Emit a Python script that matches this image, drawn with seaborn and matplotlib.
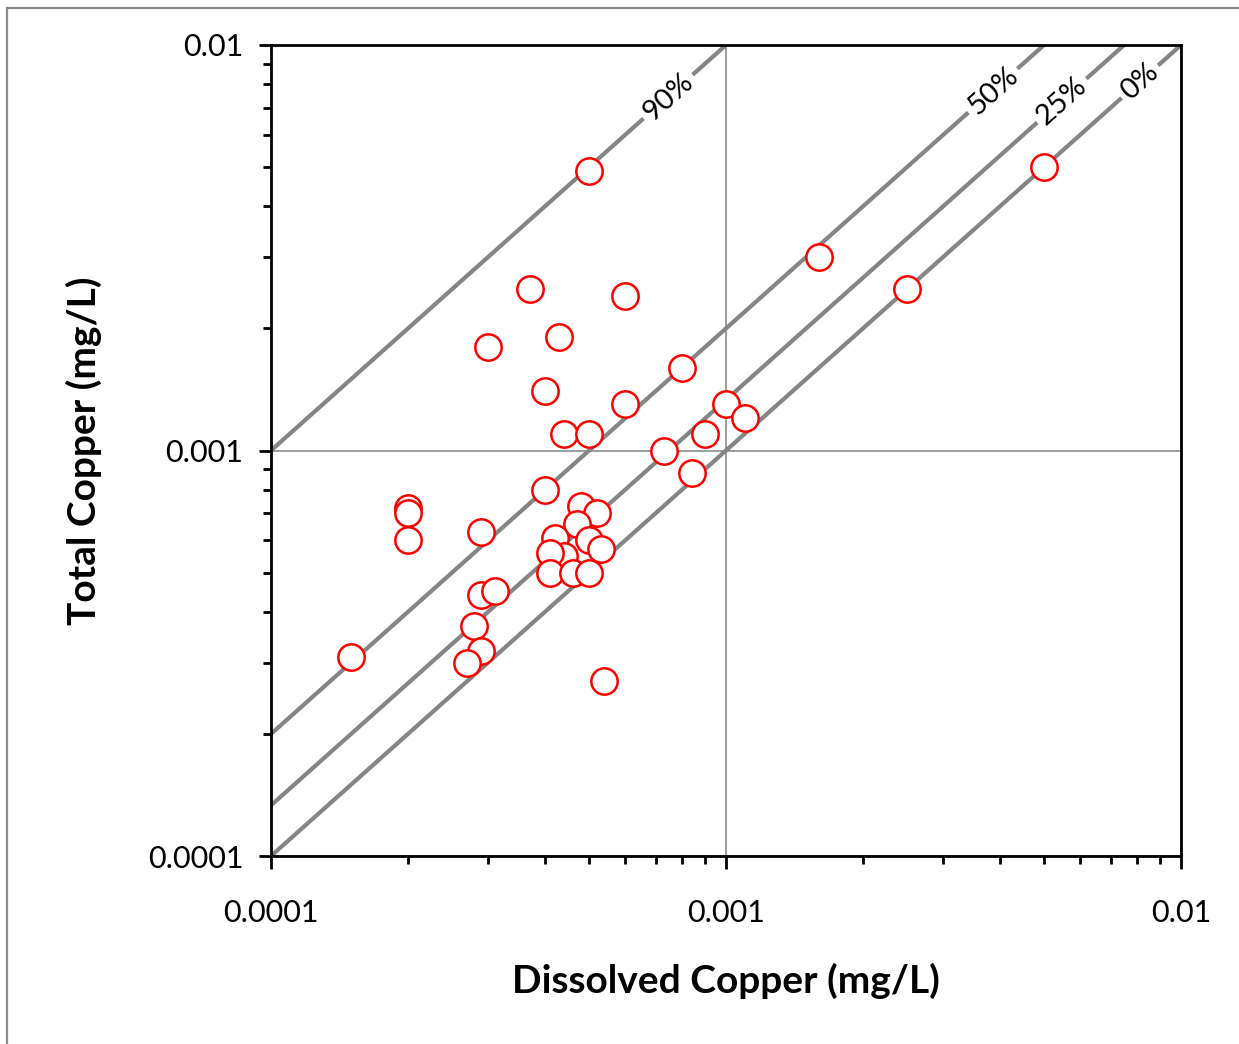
import numpy as np
import pandas as pd
import seaborn as sns
import matplotlib
matplotlib.use("Agg")
import matplotlib.pyplot as plt
from matplotlib.ticker import LogLocator, NullFormatter, FixedLocator, FixedFormatter
from matplotlib.patches import Rectangle

# ---- data (mg/L) ----
dissolved = [0.0005, 0.005, 0.0016, 0.0025, 0.00037, 0.0006, 0.0003, 0.00043,
             0.0004, 0.0008, 0.0006, 0.001, 0.0011, 0.0009, 0.00044, 0.0005,
             0.00073, 0.00084, 0.0004, 0.0002, 0.0002, 0.0002, 0.00029,
             0.00048, 0.00052, 0.00047, 0.0005, 0.00053, 0.00042, 0.00044,
             0.00041, 0.00041, 0.00046, 0.0005, 0.00029, 0.00031, 0.00028,
             0.00029, 0.00027, 0.00054, 0.00015]
total = [0.0049, 0.005, 0.003, 0.0025, 0.0025, 0.0024, 0.0018, 0.0019,
         0.0014, 0.0016, 0.0013, 0.0013, 0.0012, 0.0011, 0.0011, 0.0011,
         0.001, 0.00088, 0.0008, 0.00072, 0.0007, 0.0006, 0.00063,
         0.00073, 0.0007, 0.00066, 0.0006, 0.00057, 0.00061, 0.00055,
         0.00056, 0.0005, 0.0005, 0.0005, 0.00044, 0.00045, 0.00037,
         0.00032, 0.0003, 0.00027, 0.00031]

particulate_fraction = [0.9, 0.5, 0.25, 0.0]
fraction_labels = ["90%", "50%", "25%", "0%"]
label_dissolved = [0.000746, 0.00386, 0.00547, 0.00812]

tick_values = [0.0001, 0.001, 0.01]
tick_labels = ["0.0001", "0.001", "0.01"]

# ---- style ----
sns.set_theme(style="white")
plt.rcParams["font.family"] = ["Lato", "DejaVu Sans"]

W, H = 1239, 1044
fig = plt.figure(figsize=(W / 100, H / 100), dpi=100)
ax = fig.add_axes([271 / W, 1 - 856 / H, (1181 - 271) / W, (856 - 45) / H])

ax.set_xscale("log")
ax.set_yscale("log")

# reference lines
line_x = np.array([1e-4, 1e-2])
rows = []
for f, lab in zip(particulate_fraction, fraction_labels):
    for xv in line_x:
        rows.append({"dissolved": xv, "total": xv / (1 - f), "line": lab})
lines_df = pd.DataFrame(rows)
sns.lineplot(data=lines_df, x="dissolved", y="total", units="line",
             estimator=None, color="#858585", lw=3.0, ax=ax, zorder=2,
             legend=False, sort=False)

# labels on lines
for f, lab, xv in zip(particulate_fraction, fraction_labels, label_dissolved):
    ax.text(xv, xv / (1 - f), lab, rotation=41.7, rotation_mode="anchor",
            ha="center", va="center", fontsize=21, color="black", zorder=3,
            bbox=dict(boxstyle="square,pad=0.15", fc="white", ec="none"))

# points
pts = pd.DataFrame({"dissolved": dissolved, "total": total})
sns.scatterplot(data=pts, x="dissolved", y="total", ax=ax, s=360,
                facecolor="white", edgecolor="#ff0000", linewidth=1.8,
                zorder=4, legend=False)

ax.set_xlim(1e-4, 1e-2)
ax.set_ylim(1e-4, 1e-2)

# grid (major only)
ax.grid(True, which="major", color="#8c8c8c", lw=1.2, zorder=1)
ax.grid(False, which="minor")
ax.set_axisbelow(True)

for sp in ax.spines.values():
    sp.set_visible(True)
    sp.set_color("black")
    sp.set_linewidth(2.0)

for axis in (ax.xaxis, ax.yaxis):
    axis.set_major_locator(FixedLocator(tick_values))
    axis.set_major_formatter(FixedFormatter(tick_labels))
    axis.set_minor_locator(LogLocator(base=10, subs=np.arange(2, 10)))
    axis.set_minor_formatter(NullFormatter())

ax.tick_params(which="major", direction="out", length=9, width=2,
               color="black", labelsize=22, labelcolor="black")
ax.tick_params(which="minor", direction="out", length=6, width=2,
               color="black")
ax.tick_params(axis="x", which="major", pad=22)
ax.tick_params(axis="y", which="major", pad=11)
ax.tick_params(which="both", bottom=True, left=True, top=False, right=False)

ax.set_xlabel("Dissolved Copper (mg/L)", fontsize=28, fontweight="bold",
              labelpad=26, color="black")
ax.set_ylabel("Total Copper (mg/L)", fontsize=28, fontweight="bold",
              labelpad=33, color="black")

# outer chart border
fig.add_artist(Rectangle((7 / W, -0.05), 1.1, 1 - 8 / H + 0.05,
                         transform=fig.transFigure, fill=False,
                         ec="#8a8a8a", lw=1.6))

fig.savefig("out.png", dpi=100, facecolor="white")
